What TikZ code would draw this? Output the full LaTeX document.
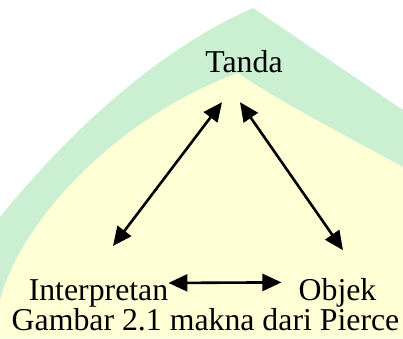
\documentclass[tikz,border=0pt]{standalone}
\usepackage{fontspec}
\setmainfont{Liberation Serif}
\usetikzlibrary{calc}
\usetikzlibrary{arrows.meta}
\definecolor{archgreen}{RGB}{202,240,209}
\definecolor{archyellow}{RGB}{255,255,214}

\begin{document}
\begin{tikzpicture}[x=1pt, y=1pt,
  lbl/.style={inner sep=0pt, anchor=base, font=\fontsize{31.8}{36}\selectfont},
  link/.style={black, line width=2.6pt, {Triangle[length=19pt,width=17pt]}-{Triangle[length=19pt,width=17pt]}}]
\useasboundingbox (0,0) rectangle (403,338);
% background arch
\fill[archgreen] (0,0) -- (0,121) .. controls (60,195) and (150,285) .. (253,330) -- (403,228) -- (403,0) -- cycle;
\fill[archyellow] (0,0) -- (0,38) .. controls (20,115) and (115,220) .. (238,265) .. controls (270,242) and (340,205) .. (403,171) -- (403,0) -- cycle;
% labels
\node[lbl] (tanda) at (244,265.3) {Tanda};
\node[lbl] (interp) at (98.5,38) {Interpretan};
\node[lbl] (objek) at (337.5,38) {Objek};
\node[lbl] (caption) at (205.5,8) {Gambar 2.1 makna dari Pierce};
% relations
\draw[link] ($(interp.north)+(14.5,33)$) -- ($(tanda.south)+(-22,-29)$);
\draw[link] ($(tanda.south)+(-4,-29)$) -- ($(objek.north)+(5.5,27.5)$);
\draw[link] ($(interp.east)+(0,10)$) -- ($(objek.west)+(-17,10)$);
\end{tikzpicture}
\end{document}
